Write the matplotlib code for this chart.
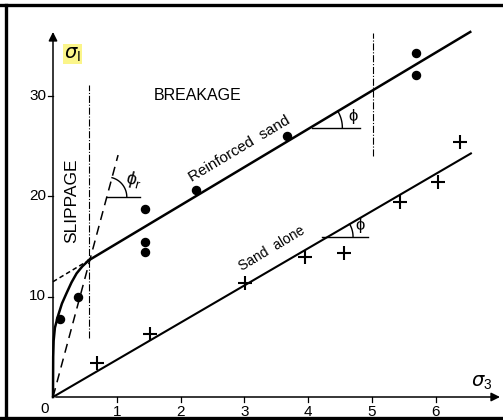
import numpy as np
import matplotlib
matplotlib.use('Agg')
import matplotlib.pyplot as plt
from matplotlib.lines import Line2D

plt.rcParams['font.family'] = ['Liberation Sans', 'DejaVu Sans']
plt.rcParams['mathtext.default'] = 'regular'

reinf_x = [0.11, 0.39, 1.44, 1.44, 1.44, 2.24, 3.67, 5.69, 5.69]
reinf_y = [7.8, 10.0, 18.7, 15.4, 14.4, 20.6, 26.0, 34.2, 32.0]
sand_x = [0.69, 1.52, 3.01, 3.95, 4.56, 5.44, 6.03, 6.38]
sand_y = [3.4, 6.3, 11.3, 13.9, 14.3, 19.4, 21.4, 25.4]

# envelope curve for the slippage part (hand traced)
curve_x = [0.0, 0.003, 0.01, 0.03, 0.08, 0.14, 0.21, 0.29, 0.37, 0.46, 0.56]
curve_y = [0.0, 4.0, 5.6, 6.9, 8.1, 9.3, 10.3, 11.4, 12.3, 13.0, 13.6]

# straight lines: sigma1 = a + b*sigma3
sand_slope = 3.7
reinf_slope = 3.8
reinf_corner = (0.56, 13.6)
phir_slope = 23.6

x_ticks = [1, 2, 3, 4, 5, 6]
y_ticks = [10, 20, 30]

PX_X = 63.8   # pixels per unit sigma3
PX_Y = 10.05  # pixels per unit sigma1

fig = plt.figure(figsize=(5.03, 4.2), dpi=100)
ax = fig.add_axes([0, 0, 1, 1])
ax.set_xlim(-53 / PX_X, (503 - 53) / PX_X)
ax.set_ylim(-23 / PX_Y, 397 / PX_Y)
ax.axis('off')

# frame of the scanned page
for xs, ys in [([0, 1], [0.988, 0.988]), ([0.011, 0.011], [0, 0.988]), ([0, 1], [0.004, 0.004])]:
    fig.add_artist(Line2D(xs, ys, transform=fig.transFigure, color='black', lw=2.4))

# axes with arrows
arrow = dict(arrowstyle='-|>', color='black', lw=1.1, mutation_scale=13)
ax.annotate('', xy=(0, 36.6), xytext=(0, 0), arrowprops=arrow)
ax.annotate('', xy=(7.05, 0), xytext=(0, 0), arrowprops=arrow)

for t in x_ticks:
    ax.plot([t, t], [0, -0.45], color='black', lw=0.9)
    ax.text(t, -1.45, str(t), ha='center', va='center', fontsize=11)
for t in y_ticks:
    ax.plot([0, -0.08], [t, t], color='black', lw=0.9)
    ax.text(-0.11, t, str(t), ha='right', va='center', fontsize=11)
ax.text(-0.06, -0.5, '0', ha='right', va='top', fontsize=11)

ax.text(0.31, 34.1, r'$\mathit{\sigma}_I$', ha='center', va='center', fontsize=14,
        bbox=dict(boxstyle='square,pad=0.05', facecolor='#fbf58a', edgecolor='none'))
ax.text(6.72, 1.5, r'$\mathit{\sigma}_3$', ha='center', va='center', fontsize=14)

# sand alone line
sx = np.array([0, 6.55])
ax.plot(sx, sand_slope * sx, color='black', lw=1.5)

# reinforced sand line + dashed extension to the axis
cx, cy = reinf_corner
rx = np.array([cx, 6.54])
ax.plot(rx, cy + reinf_slope * (rx - cx), color='black', lw=1.8)
ax.plot([0, cx], [cy - reinf_slope * cx, cy], color='black', lw=1.1, ls=(0, (3, 2)))

# slippage curve
ax.plot(curve_x, curve_y, color='black', lw=1.8)

# phi_r dashed line
px = np.array([0, 1.02])
ax.plot(px, phir_slope * px, color='black', lw=1.1, ls=(0, (6, 4)))

# dash-dot boundaries
ax.plot([0.57, 0.57], [5.9, 31.0], color='black', lw=0.8, ls='-.')
ax.plot([5.02, 5.02], [24.0, 36.2], color='black', lw=0.8, ls='-.')

# points
ax.plot(reinf_x, reinf_y, 'o', color='black', ms=5.8)
ax.plot(sand_x, sand_y, '+', color='black', ms=10, mew=1.5)


def arc(xc, yc, slope, r_px):
    # arc drawn as a circle in pixel space between horizontal and the line
    a = np.arctan(slope * PX_Y / PX_X)
    t = np.linspace(0, a, 30)
    ax.plot(xc + r_px * np.cos(t) / PX_X, yc + r_px * np.sin(t) / PX_Y, color='black', lw=1.0)


# phi_r
ax.plot([0.85, 1.36], [19.9, 19.9], color='black', lw=1.0)
arc(19.9 / phir_slope, 19.9, phir_slope, 20)
ax.text(1.27, 21.6, r'$\phi_r$', ha='center', va='center', fontsize=13, rotation=-15)

# phi on reinforced line
yphi = 26.8
ax.plot([4.06, 4.81], [yphi, yphi], color='black', lw=1.0)
arc(cx + (yphi - cy) / reinf_slope, yphi, reinf_slope, 32)
ax.text(4.71, 27.9, r'$\phi$', ha='center', va='center', fontsize=12)

# phi on sand line
yphi2 = 15.95
ax.plot([4.21, 4.94], [yphi2, yphi2], color='black', lw=1.0)
arc(yphi2 / sand_slope, yphi2, sand_slope, 25)
ax.text(4.82, 17.1, r'$\phi$', ha='center', va='center', fontsize=12)

ang = np.degrees(np.arctan(reinf_slope * PX_Y / PX_X))
ax.text(2.93, 24.7, 'Reinforced  sand', rotation=ang, ha='center', va='center', fontsize=11)
ax.text(3.43, 14.8, 'Sand  alone', rotation=ang, ha='center', va='center', fontsize=10)

ax.text(2.26, 30.0, 'BREAKAGE', ha='center', va='center', fontsize=11.5)
ax.text(0.29, 19.5, 'SLIPPAGE', rotation=90, ha='center', va='center', fontsize=12.5)

fig.savefig('out.png', dpi=100)
